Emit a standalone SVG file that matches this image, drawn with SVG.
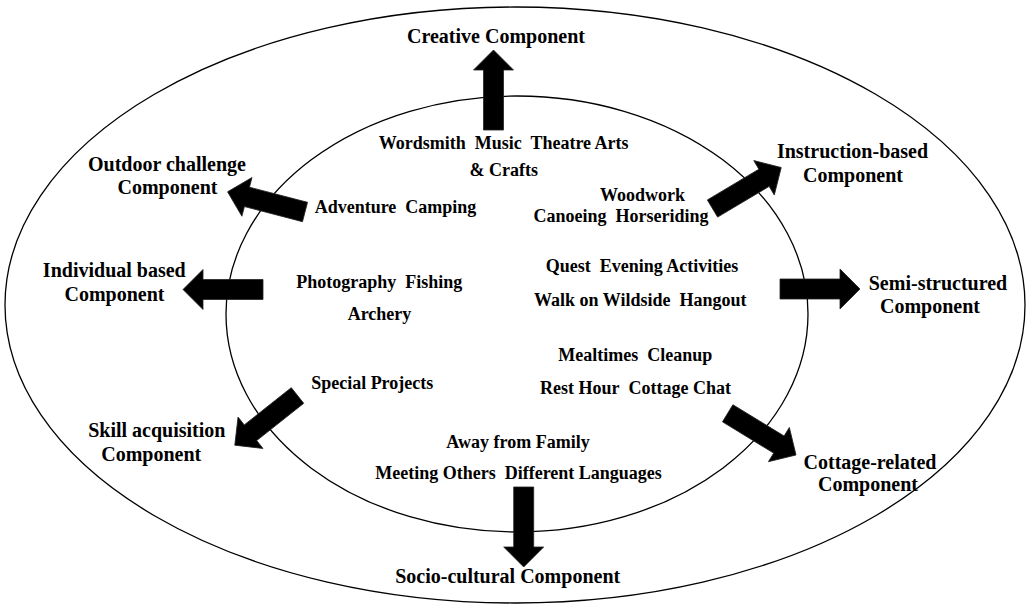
<svg xmlns="http://www.w3.org/2000/svg" xmlns:xlink="http://www.w3.org/1999/xlink" width="1028" height="604" viewBox="0 0 1028 604">
  <style>
    text { font-family: "Liberation Serif", "Times New Roman", serif; font-weight: bold; fill: #000; text-anchor: middle; }
    .outer { font-size: 20px; }
    .inner { font-size: 18px; }
    .ring { fill: none; stroke: #000; stroke-width: 1.3; }
    .arrow { fill: #000; stroke: #222; stroke-width: 0.8; stroke-linejoin: miter; }
  </style>
  <defs>
    <!-- block arrow pointing along +x: tail at origin, tip at x=80 -->
    <path id="block-arrow" d="M0,-10 L60,-10 L60,-20 L80,0 L60,20 L60,10 L0,10 Z"/>
  </defs>

  <rect width="1028" height="604" fill="#fff"/>

  <g id="rings">
    <ellipse class="ring" cx="515" cy="305" rx="510" ry="298"/>
    <ellipse class="ring" cx="517" cy="314" rx="291" ry="218"/>
  </g>

  <!-- activity clusters inside the inner ring -->
  <g id="creative-activities" class="inner">
    <text x="503.7" y="149">Wordsmith&#160; Music&#160; Theatre Arts</text>
    <text x="503.8" y="175.7">&amp; Crafts</text>
  </g>
  <g id="instruction-activities" class="inner">
    <text x="642.5" y="200.7">Woodwork</text>
    <text x="621" y="221.7">Canoeing&#160; Horseriding</text>
  </g>
  <g id="outdoor-activities" class="inner">
    <text x="395.5" y="213.3">Adventure&#160; Camping</text>
  </g>
  <g id="semi-structured-activities" class="inner">
    <text x="642" y="272">Quest&#160; Evening Activities</text>
    <text x="640.3" y="306">Walk on Wildside&#160; Hangout</text>
  </g>
  <g id="individual-activities" class="inner">
    <text x="379.2" y="288.3">Photography&#160; Fishing</text>
    <text x="379.5" y="320">Archery</text>
  </g>
  <g id="cottage-activities" class="inner">
    <text x="635.2" y="361">Mealtimes&#160; Cleanup</text>
    <text x="635.5" y="394">Rest Hour&#160; Cottage Chat</text>
  </g>
  <g id="skill-activities" class="inner">
    <text x="372.2" y="389.3">Special Projects</text>
  </g>
  <g id="socio-cultural-activities" class="inner">
    <text x="518" y="448.3">Away from Family</text>
    <text x="518.5" y="479.3">Meeting Others&#160; Different Languages</text>
  </g>

  <!-- component labels between the rings -->
  <g id="creative-component" class="outer">
    <text x="496" y="42.7">Creative Component</text>
  </g>
  <g id="instruction-component" class="outer">
    <text x="852.5" y="157.5">Instruction-based</text>
    <text x="853" y="181.7">Component</text>
  </g>
  <g id="semi-structured-component" class="outer">
    <text x="938" y="290">Semi-structured</text>
    <text x="930" y="313">Component</text>
  </g>
  <g id="outdoor-component" class="outer">
    <text x="167" y="170.7">Outdoor challenge</text>
    <text x="167.5" y="194.3">Component</text>
  </g>
  <g id="individual-component" class="outer">
    <text x="114.3" y="276.7">Individual based</text>
    <text x="114.5" y="301">Component</text>
  </g>
  <g id="skill-component" class="outer">
    <text x="156.8" y="437.3">Skill acquisition</text>
    <text x="151.2" y="460.7">Component</text>
  </g>
  <g id="cottage-component" class="outer">
    <text x="870" y="469">Cottage-related</text>
    <text x="868" y="491">Component</text>
  </g>
  <g id="socio-cultural-component" class="outer">
    <text x="507.7" y="583">Socio-cultural Component</text>
  </g>

  <!-- connectors: block arrows from each cluster out to its component -->
  <g id="connectors">
    <use class="arrow" xlink:href="#block-arrow" transform="translate(493.5,130) rotate(-90)"/>
    <use class="arrow" xlink:href="#block-arrow" transform="translate(712.5,208.5) rotate(-30.8)"/>
    <use class="arrow" xlink:href="#block-arrow" transform="translate(780,289) rotate(0)"/>
    <use class="arrow" xlink:href="#block-arrow" transform="translate(727.7,413.3) rotate(31.4)"/>
    <use class="arrow" xlink:href="#block-arrow" transform="translate(523.7,487) rotate(90)"/>
    <use class="arrow" xlink:href="#block-arrow" transform="translate(297.5,395.5) rotate(141.6)"/>
    <use class="arrow" xlink:href="#block-arrow" transform="translate(263,289.5) rotate(180)"/>
    <use class="arrow" xlink:href="#block-arrow" transform="translate(305,212) rotate(194.6)"/>
  </g>
</svg>
